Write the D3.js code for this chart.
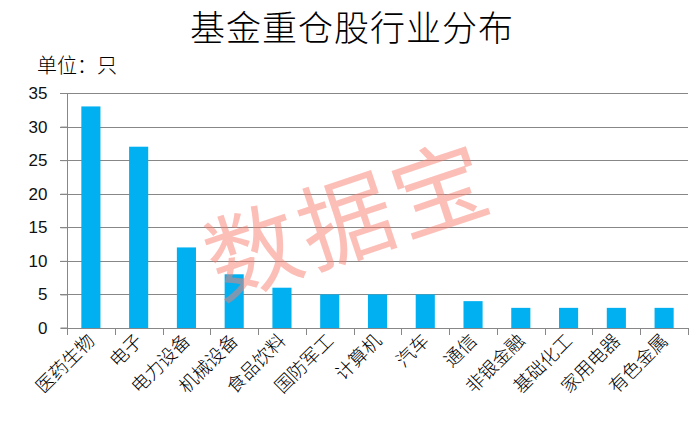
<!DOCTYPE html>
<html><head><meta charset="utf-8">
<script src="https://cdn.jsdelivr.net/npm/d3@7"></script>
<style>body{margin:0;background:#fff;} svg{display:block;}</style>
</head><body>
<svg id="c" width="698" height="421"></svg>
<script>
const categories = ["医药生物","电子","电力设备","机械设备","食品饮料","国防军工","计算机","汽车","通信","非银金融","基础化工","家用电器","有色金属"];
const values = [33,27,12,8,6,5,5,5,4,3,3,3,3];
const yTicks = [0,5,10,15,20,25,30,35];
const titleText = "基金重仓股行业分布";
const unitText = "单位：只";
const watermark = "数据宝";

const svg = d3.select("#c");
const m = {left:67, right:10, top:93, bottom:93};
const W = 698, H = 421;
const x = d3.scaleBand().domain(categories).range([m.left, W - m.right]).paddingInner(0.6).paddingOuter(0.3);
const y = d3.scaleLinear().domain([0,35]).range([H - m.bottom, m.top]);
const cjk = "'Noto Sans CJK SC', sans-serif";

svg.append("text").attr("x", 352).attr("y", 41).attr("text-anchor","middle")
  .attr("font-family", cjk).attr("font-size", 35).attr("font-weight", 300).attr("fill","#000")
  .attr("letter-spacing", 1).text(titleText);
svg.append("text").attr("x", 37).attr("y", 73)
  .attr("font-family", cjk).attr("font-size", 20).attr("font-weight", 300).attr("fill","#000").text(unitText);

// gridlines
svg.append("g").selectAll("line").data(yTicks.filter(d=>d>0)).join("line")
  .attr("x1", m.left - 7).attr("x2", W - m.right)
  .attr("y1", d=>Math.round(y(d))+0.5).attr("y2", d=>Math.round(y(d))+0.5)
  .attr("stroke","#878787").attr("stroke-width",1);

// y axis
const ya = svg.append("g").attr("transform",`translate(${m.left+0.5},0)`)
  .call(d3.axisLeft(y).tickValues(yTicks).tickSize(7).tickPadding(13));
ya.select(".domain").attr("stroke","#878787").attr("d", `M-7,${y(0)}H0V${y(35)}`);
ya.selectAll(".tick line").attr("stroke","#878787");
ya.selectAll(".tick text").attr("font-family","'Liberation Sans', Arial, sans-serif").attr("font-size",17).attr("fill","#111");

// bars
svg.append("g").selectAll("rect").data(values).join("rect")
  .attr("x",(d,i)=>x(categories[i])).attr("width", x.bandwidth())
  .attr("y", d=>y(d)).attr("height", d=>y(0)-y(d)).attr("fill","#00B0F0");

// x axis
const bounds = d3.range(categories.length+1).map(i => m.left + (W - m.right - m.left) * i / categories.length);
const xa = svg.append("g");
xa.append("line").attr("x1", m.left).attr("x2", W - m.right)
  .attr("y1", Math.round(y(0))+0.5).attr("y2", Math.round(y(0))+0.5).attr("stroke","#878787");
xa.selectAll("line.t").data(bounds).join("line").attr("class","t")
  .attr("x1", d=>Math.round(d)+0.5).attr("x2", d=>Math.round(d)+0.5)
  .attr("y1", Math.round(y(0))).attr("y2", Math.round(y(0))+7).attr("stroke","#878787");
xa.selectAll("text").data(categories).join("text")
  .attr("transform", d=>`translate(${x(d)+x.bandwidth()/2+5},${y(0)+14}) rotate(-45)`)
  .attr("text-anchor","end").attr("font-family", cjk).attr("font-size",18.5).attr("font-weight",300).attr("fill","#000")
  .text(d=>d);

// watermark
svg.append("text").attr("transform","translate(346,214) rotate(-18.5)")
  .attr("text-anchor","middle").attr("dominant-baseline","central")
  .attr("font-family", cjk).attr("font-size", 94).attr("fill","#FA8072").attr("fill-opacity",0.5)
  .attr("letter-spacing", 4)
  .text(watermark);
</script>
</body></html>
